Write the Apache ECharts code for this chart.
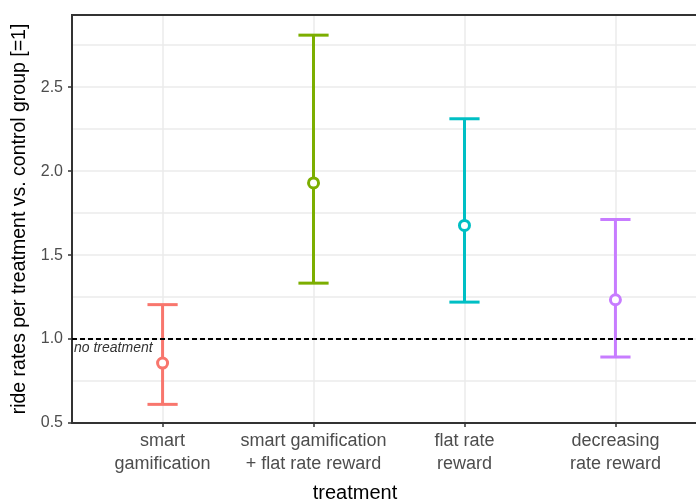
<!DOCTYPE html>
<html>
<head>
<meta charset="utf-8">
<script src="https://cdn.jsdelivr.net/npm/echarts@6/dist/echarts.min.js"></script>
<style>
  html, body { margin: 0; padding: 0; background: #fff; }
  #chart { width: 696px; height: 501px; }
</style>
</head>
<body>
<div id="chart"></div>
<script>
// treatments on the x axis (positions 1..4)
const categories = ['smart\ngamification', 'smart gamification\n+ flat rate reward', 'flat rate\nreward', 'decreasing\nrate reward'];
const positions = [1, 2, 3, 4];
// ratio vs control group, with interval bounds
const means = [0.857, 1.93, 1.677, 1.234];
const lower = [0.611, 1.333, 1.22, 0.893];
const upper = [1.205, 2.81, 2.312, 1.712];
const colors = ['#F8766D', '#7CAE00', '#00BFC4', '#C77CFF'];
const yTicks = [0.5, 1.0, 1.5, 2.0, 2.5];
const refValue = 1;

const chart = echarts.init(document.getElementById('chart'));

const font = 'Liberation Sans, Arial, sans-serif';

const barData = positions.map((p, i) => [p, lower[i], upper[i]]);
const pointData = positions.map((p, i) => ({
    value: [p, means[i]],
    itemStyle: { color: '#fff', borderColor: colors[i], borderWidth: 3, opacity: 1 }
}));

chart.setOption({
    animation: false,
    grid: {
        left: 72, right: -10, top: 15, bottom: 78,
        outerBoundsMode: 'none',
        show: true, borderColor: '#333', borderWidth: 2
    },
    xAxis: [{
        type: 'value', min: 0.4, max: 4.6,
        axisLine: { show: true, lineStyle: { color: '#333', width: 2 } },
        axisTick: { show: true, customValues: positions, length: 4, lineStyle: { color: '#333', width: 1.5 } },
        axisLabel: {
            customValues: positions,
            formatter: v => categories[Math.round(v) - 1],
            fontFamily: font, fontSize: 18, color: '#4d4d4d',
            lineHeight: 23, margin: 7
        },
        splitLine: { show: true, lineStyle: { color: '#ebebeb', width: 1.5 } }
    }, {
        // panel border on top
        type: 'value', position: 'top', min: 0.4, max: 4.6,
        axisLine: { show: true, lineStyle: { color: '#333', width: 2 } },
        axisTick: { show: false }, axisLabel: { show: false }, splitLine: { show: false }
    }],
    yAxis: {
        type: 'value', min: 0.5, max: 2.93, interval: 0.5,
        name: 'ride rates per treatment vs. control group [=1]',
        nameLocation: 'middle', nameGap: 37, nameRotate: 90,
        nameTextStyle: { fontFamily: font, fontSize: 19.5, color: '#000' },
        axisLine: { show: true, lineStyle: { color: '#333', width: 2 } },
        axisTick: { show: true, customValues: yTicks, length: 4, lineStyle: { color: '#333', width: 1.5 } },
        axisLabel: {
            customValues: yTicks,
            formatter: v => v.toFixed(1),
            fontFamily: font, fontSize: 16, color: '#4d4d4d', margin: 9
        },
        splitLine: { show: true, lineStyle: { color: '#ebebeb', width: 1.5 } },
        minorTick: { show: false, splitNumber: 2 },
        minorSplitLine: { show: true, lineStyle: { color: '#ebebeb', width: 1.5 } }
    },
    graphic: [{
        type: 'text', x: 355, y: 493,
        style: { text: 'treatment', fontFamily: font, fontSize: 20, fill: '#000', textAlign: 'center', textVerticalAlign: 'middle' }
    }],
    series: [
        {
            type: 'custom',
            data: barData,
            z: 3,
            renderItem: (params, api) => {
                const x = api.value(0);
                const lo = api.coord([x, api.value(1)]);
                const hi = api.coord([x, api.value(2)]);
                const half = api.size([0.1, 0])[0];
                const c = colors[params.dataIndex];
                const style = { stroke: c, lineWidth: 3, fill: null };
                return {
                    type: 'group',
                    children: [
                        { type: 'line', shape: { x1: lo[0], y1: lo[1], x2: hi[0], y2: hi[1] }, style },
                        { type: 'line', shape: { x1: lo[0] - half, y1: lo[1], x2: lo[0] + half, y2: lo[1] }, style },
                        { type: 'line', shape: { x1: hi[0] - half, y1: hi[1], x2: hi[0] + half, y2: hi[1] }, style }
                    ]
                };
            },
            markLine: {
                silent: true, symbol: 'none',
                lineStyle: { color: '#000', type: [5, 3], width: 2 },
                label: {
                    show: true, position: 'insideStartBottom', formatter: 'no treatment',
                    fontFamily: font, fontStyle: 'italic', fontSize: 14, color: '#333', distance: [2, 2]
                },
                data: [{ yAxis: refValue }]
            }
        },
        {
            type: 'scatter',
            data: pointData,
            z: 4,
            symbol: 'circle',
            symbolSize: 10
        }
    ]
});
</script>
</body>
</html>
